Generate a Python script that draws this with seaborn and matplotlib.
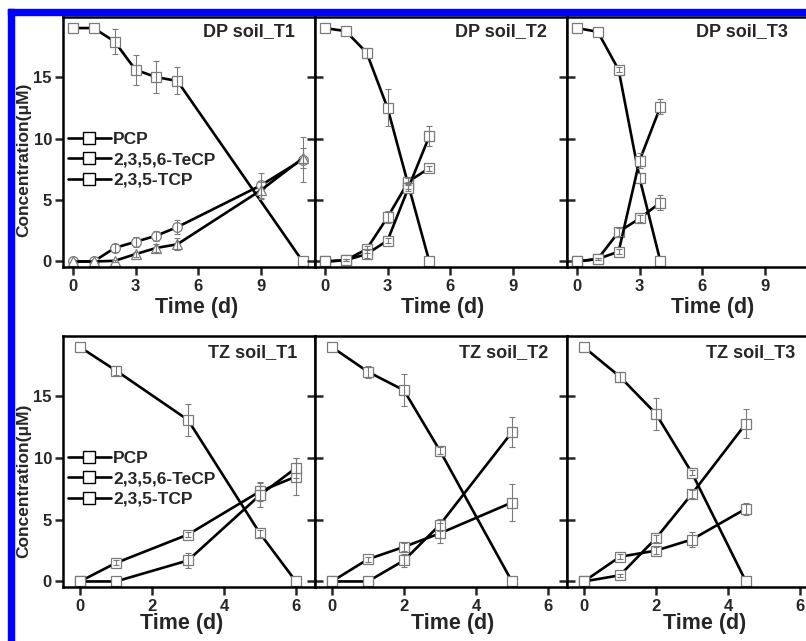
import numpy as np
import pandas as pd
import matplotlib
matplotlib.use("Agg")
import matplotlib.pyplot as plt
import seaborn as sns
from matplotlib.lines import Line2D
from matplotlib.patches import Rectangle

# ---------------- data ----------------
series_names = ["PCP", "2,3,5,6-TeCP", "2,3,5-TCP"]

# DP soil T1
dp1_t_pcp = [0, 1, 2, 3, 4, 5, 11]
dp1_pcp = [19.0, 19.0, 17.9, 15.6, 15.0, 14.7, 0.0]
dp1_pcp_err = [0, 0, 1.0, 1.2, 1.3, 1.1, 0]
dp1_t_met = [0, 1, 2, 3, 4, 5, 9, 11]
dp1_tecp = [0.0, 0.0, 1.1, 1.6, 2.1, 2.8, 6.2, 8.3]
dp1_tecp_err = [0, 0, 0.3, 0.4, 0.4, 0.6, 1.0, 1.8]
dp1_tcp = [0.0, 0.0, 0.05, 0.6, 1.1, 1.4, 5.8, 8.4]
dp1_tcp_err = [0, 0, 0.1, 0.2, 0.3, 0.5, 0.7, 0.8]

# DP soil T2
dp2_t = [0, 1, 2, 3, 4, 5]
dp2_pcp = [19.0, 18.75, 17.0, 12.5, 6.2, 0.0]
dp2_pcp_err = [0, 0, 0.4, 1.5, 0.3, 0]
dp2_tecp = [0.0, 0.1, 1.0, 3.6, 6.5, 7.6]
dp2_tecp_err = [0, 0.1, 0.3, 0.5, 0.3, 0.2]
dp2_tcp = [0.0, 0.1, 0.6, 1.7, 6.0, 10.2]
dp2_tcp_err = [0, 0.1, 0.3, 0.2, 0.3, 0.8]

# DP soil T3
dp3_t = [0, 1, 2, 3, 4]
dp3_pcp = [19.0, 18.7, 15.6, 6.8, 0.0]
dp3_pcp_err = [0, 0, 0.2, 0.4, 0]
dp3_tecp = [0.0, 0.2, 2.4, 3.5, 4.8]
dp3_tecp_err = [0, 0.1, 0.3, 0.3, 0.6]
dp3_tcp = [0.0, 0.2, 0.8, 8.2, 12.6]
dp3_tcp_err = [0, 0.1, 0.2, 0.6, 0.6]

# TZ soil T1
tz1_t = [0, 1, 3, 5, 6]
tz1_pcp = [19.0, 17.1, 13.1, 3.9, 0.0]
tz1_pcp_err = [0, 0.4, 1.3, 0.3, 0]
tz1_tecp = [0.0, 1.5, 3.8, 7.3, 8.5]
tz1_tecp_err = [0, 0.2, 0.2, 0.8, 1.5]
tz1_tcp = [0.0, 0.0, 1.7, 7.0, 9.2]
tz1_tcp_err = [0, 0, 0.6, 1.0, 0.8]

# TZ soil T2
tz2_t = [0, 1, 2, 3, 5]
tz2_pcp = [19.0, 17.0, 15.5, 10.6, 0.0]
tz2_pcp_err = [0, 0.5, 1.3, 0.3, 0]
tz2_tecp = [0.0, 1.8, 2.8, 3.9, 6.4]
tz2_tecp_err = [0, 0.2, 0.3, 0.8, 1.5]
tz2_tcp = [0.0, 0.0, 1.7, 4.6, 12.1]
tz2_tcp_err = [0, 0, 0.5, 0.5, 1.2]

# TZ soil T3
tz3_t = [0, 1, 2, 3, 4.5]
tz3_pcp = [19.0, 16.6, 13.6, 8.8, 0.0]
tz3_pcp_err = [0, 0.4, 1.3, 0.2, 0]
tz3_tecp = [0.0, 2.0, 2.5, 3.4, 5.9]
tz3_tecp_err = [0, 0.2, 0.3, 0.6, 0.5]
tz3_tcp = [0.0, 0.5, 3.5, 7.1, 12.8]
tz3_tcp_err = [0, 0.1, 0.3, 0.3, 1.2]

panel_titles = ["DP soil_T1", "DP soil_T2", "DP soil_T3",
                "TZ soil_T1", "TZ soil_T2", "TZ soil_T3"]
top_xticks = [0, 3, 6, 9]
bot_xticks = [0, 2, 4, 6]
yticks = [0, 5, 10, 15]

# ---------------- style ----------------
sns.set_style("ticks")
plt.rcParams["font.family"] = ["Liberation Sans", "DejaVu Sans"]
plt.rcParams["font.weight"] = "bold"
plt.rcParams["axes.linewidth"] = 1.8

W, H = 806, 641
fig = plt.figure(figsize=(W / 100, H / 100), dpi=100)
fig.patch.set_facecolor("white")


def fx(x):
    return x / W


def fy(y):
    return 1 - y / H


def make_ax(left, top, width, height):
    return fig.add_axes([fx(left), fy(top + height), width / W, height / H])


LINE_C = "black"
MEC = "#7a7a7a"
ECOL = "#7a7a7a"


def draw_series(ax, t, y, e, marker):
    df = pd.DataFrame({"t": t, "c": y})
    sns.lineplot(data=df, x="t", y="c", ax=ax, color=LINE_C, lw=1.9,
                 marker=marker, ms=6.5 if marker == "s" else 7,
                 mfc="white", mec=MEC, mew=0.9, zorder=2, legend=False,
                 errorbar=None)
    t_arr = np.asarray(t, float)
    y_arr = np.asarray(y, float)
    e_arr = np.asarray(e, float)
    m = e_arr > 0
    ax.errorbar(t_arr[m], y_arr[m], yerr=e_arr[m], fmt="none", ecolor=ECOL,
                elinewidth=0.8, capsize=2.5, capthick=0.8, zorder=3)


lefts = [63, 315, 567]
pw = 252
rows = [(17, 250), (336, 251)]

panels = [
    [(dp1_t_pcp, dp1_pcp, dp1_pcp_err, "s"),
     (dp1_t_met, dp1_tecp, dp1_tecp_err, "o"),
     (dp1_t_met, dp1_tcp, dp1_tcp_err, "^")],
    [(dp2_t, dp2_pcp, dp2_pcp_err, "s"),
     (dp2_t, dp2_tecp, dp2_tecp_err, "s"),
     (dp2_t, dp2_tcp, dp2_tcp_err, "s")],
    [(dp3_t, dp3_pcp, dp3_pcp_err, "s"),
     (dp3_t, dp3_tecp, dp3_tecp_err, "s"),
     (dp3_t, dp3_tcp, dp3_tcp_err, "s")],
    [(tz1_t, tz1_pcp, tz1_pcp_err, "s"),
     (tz1_t, tz1_tecp, tz1_tecp_err, "s"),
     (tz1_t, tz1_tcp, tz1_tcp_err, "s")],
    [(tz2_t, tz2_pcp, tz2_pcp_err, "s"),
     (tz2_t, tz2_tecp, tz2_tecp_err, "s"),
     (tz2_t, tz2_tcp, tz2_tcp_err, "s")],
    [(tz3_t, tz3_pcp, tz3_pcp_err, "s"),
     (tz3_t, tz3_tecp, tz3_tecp_err, "s"),
     (tz3_t, tz3_tcp, tz3_tcp_err, "s")],
]

title_pos = [(295, 32), (547, 32), (788, 32), (297, 353), (548, 353), (795, 353)]
xlabel_pos = [(197, 307), (443, 308), (713, 308), (182, 623), (453, 623), (705, 623)]

axes = []
for i in range(6):
    r, c = divmod(i, 3)
    top, h = rows[r]
    ax = make_ax(lefts[c], top, pw, h)
    ax.set_facecolor("white")
    for s in panels[i]:
        draw_series(ax, *s)
    ax.set_ylim(-0.45, 19.9)
    if r == 0:
        ax.set_xlim(-0.47, -0.47 + pw / 20.9)
        ax.set_xticks(top_xticks)
    else:
        ax.set_xlim(-0.47, -0.47 + pw / 36.0)
        ax.set_xticks(bot_xticks)
    ax.set_yticks(yticks)
    ax.set_xlabel("")
    ax.set_ylabel("")
    for sp in ax.spines.values():
        sp.set_visible(True)
        sp.set_linewidth(1.8)
        sp.set_color("black")
    ax.tick_params(axis="x", direction="out", length=5.5, width=1.8,
                   labelsize=12, pad=3, top=False)
    if c == 0:
        ax.tick_params(axis="y", direction="out", length=6, width=1.8,
                       labelsize=12, pad=2, right=False)
    else:
        ax.tick_params(axis="y", direction="inout", length=12, width=1.8,
                       labelleft=False, right=False)
    for lab in ax.get_xticklabels() + ax.get_yticklabels():
        lab.set_fontweight("bold")
    axes.append(ax)

    tx, ty = title_pos[i]
    fig.text(fx(tx), fy(ty), panel_titles[i], ha="right", va="center",
             fontsize=13, fontweight="bold")
    lx, ly = xlabel_pos[i]
    fig.text(fx(lx), fy(ly), "Time (d)", ha="center", va="center",
             fontsize=15.5, fontweight="bold")

# y labels
for yc in (160, 481):
    fig.text(fx(24), fy(yc), "Concentration(\u03bcM)", rotation=90,
             ha="center", va="center", fontsize=12.5, fontweight="bold")

# legends
handles = [Line2D([], [], color="black", lw=1.9, marker="s", ms=9,
                  mfc="white", mec="black", mew=1.0) for _ in series_names]
for ax, ytop in ((axes[0], 132), (axes[3], 451)):
    ax.legend(handles, series_names, loc="upper left",
              bbox_to_anchor=(fx(68), fy(ytop)), bbox_transform=fig.transFigure,
              frameon=False, borderpad=0, borderaxespad=0, handlelength=2.45,
              handletextpad=0.15, labelspacing=0.3,
              prop={"size": 12.5, "weight": "bold"})

# blue frame
fig.add_artist(Rectangle((fx(8), 0), 6 / W, (H - 9) / H,
                         transform=fig.transFigure, color="#0000ff", zorder=10))
fig.add_artist(Rectangle((fx(8), fy(15)), 1, 6 / H,
                         transform=fig.transFigure, color="#0000ff", zorder=10))

fig.savefig("out.png", dpi=100, facecolor="white")
